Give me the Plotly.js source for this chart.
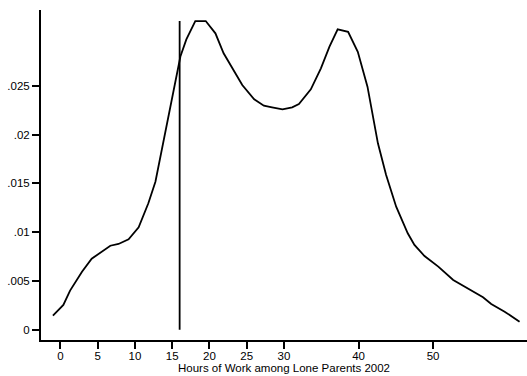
<!DOCTYPE html>
<html>
<head>
<meta charset="utf-8">
<script src="https://cdn.plot.ly/plotly-3.0.1.min.js"></script>
<style>html,body{margin:0;padding:0;background:#fff;}#chart{width:527px;height:376px;}</style>
</head>
<body>
<div id="chart"></div>
<script>
// Kernel density estimate of hours of work among lone parents 2002
const hours = [-1.0, 0.4, 1.3, 2.9, 4.2, 5.3, 6.7, 7.8, 9.15, 10.5, 11.8, 12.75, 14.4, 16.1, 16.9, 18.1, 19.5, 20.8, 21.9, 23.1, 24.4, 26.0, 27.3, 28.4, 29.8, 31.1, 32.0, 33.6, 34.95, 36.1, 37.2, 38.6, 39.9, 41.2, 42.6, 43.7, 45.05, 46.6, 47.5, 48.85, 50.7, 52.7, 54.7, 56.7, 57.8, 59.6, 61.6];
const density = [0.00143, 0.00253, 0.0040, 0.00594, 0.00727, 0.00783, 0.0086, 0.00878, 0.00926, 0.01049, 0.01295, 0.01516, 0.0215, 0.0280, 0.02975, 0.03163, 0.03163, 0.03037, 0.02832, 0.02678, 0.02507, 0.02361, 0.02295, 0.02279, 0.02258, 0.02279, 0.02312, 0.02463, 0.02678, 0.0290, 0.03078, 0.03053, 0.02848, 0.0249, 0.0191, 0.01585, 0.0126, 0.00988, 0.00868, 0.00755, 0.00646, 0.00509, 0.00424, 0.00332, 0.00263, 0.00184, 0.00082];
const thresholdX = [16, 16];
const thresholdY = [0, 0.03163];
const xTicks = [0, 5, 10, 15, 20, 25, 30, 40, 50];
const xTickText = ["0", "5", "10", "15", "20", "25", "30", "40", "50"];
const yTicks = [0, 0.005, 0.01, 0.015, 0.02, 0.025];
const yTickText = ["0", ".005", ".01", ".015", ".02", ".025"];

const traces = [
  {x: hours, y: density, type: 'scatter', mode: 'lines', line: {color: '#000', width: 1.8}, hoverinfo: 'skip'},
  {x: thresholdX, y: thresholdY, type: 'scatter', mode: 'lines', line: {color: '#000', width: 1.8}, hoverinfo: 'skip'}
];
const layout = {
  width: 527, height: 376,
  margin: {l: 41, r: 0, t: 10, b: 36},
  paper_bgcolor: '#fff', plot_bgcolor: '#fff',
  showlegend: false,
  font: {family: 'Liberation Sans, Arial, sans-serif', size: 11.5, color: '#000'},
  xaxis: {
    range: [-2.6, 62.6], showgrid: false, zeroline: false,
    showline: true, linecolor: '#000', linewidth: 2,
    ticks: 'outside', ticklen: 7, tickwidth: 2, tickcolor: '#000',
    tickvals: xTicks, ticktext: xTickText, tickfont: {size: 11.5},
    ticklabelstandoff: -3,
    title: {text: 'Hours of Work among Lone Parents 2002', font: {size: 11.5}, standoff: 0}
  },
  yaxis: {
    range: [-0.00106, 0.03276], showgrid: false, zeroline: false,
    showline: true, linecolor: '#000', linewidth: 2,
    ticks: 'outside', ticklen: 7, tickwidth: 2, tickcolor: '#000',
    tickvals: yTicks, ticktext: yTickText, tickfont: {size: 11.5}
  }
};
Plotly.newPlot('chart', traces, layout, {displayModeBar: false, staticPlot: true});
</script>
</body>
</html>
